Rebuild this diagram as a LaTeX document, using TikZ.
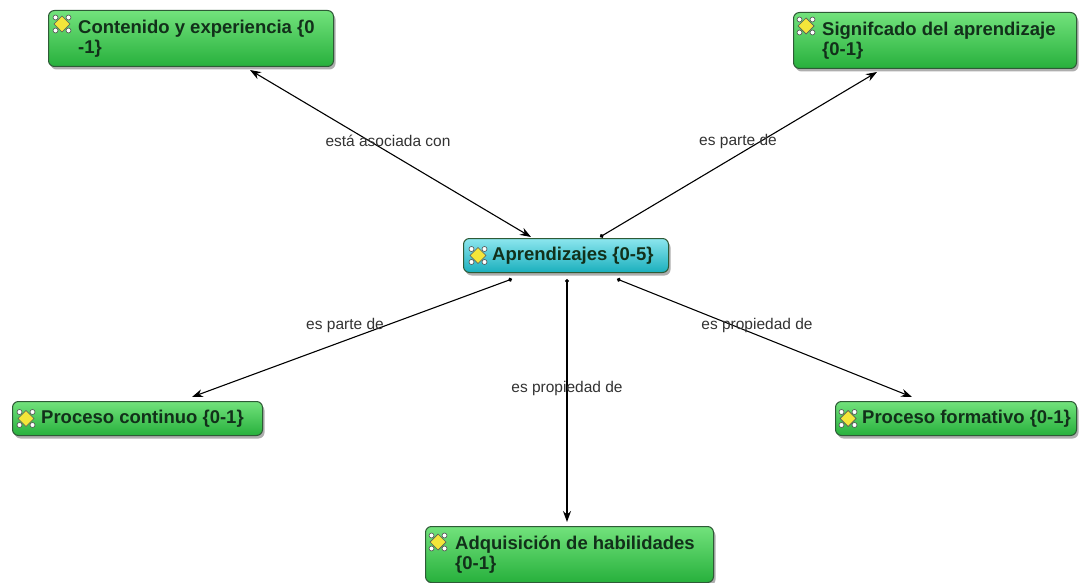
\documentclass[tikz,border=0pt]{standalone}
\usepackage{fontspec}
\setmainfont{Liberation Sans}
\usetikzlibrary{arrows.meta,shadows,calc}
\definecolor{gtop}{HTML}{72E27C}
\definecolor{gbot}{HTML}{27B03C}
\definecolor{ctop}{HTML}{8CE6EE}
\definecolor{cbot}{HTML}{1AAFBD}
\definecolor{bordc}{HTML}{2E5A36}
\definecolor{txtc}{HTML}{12301A}
\definecolor{lblc}{HTML}{333333}
\definecolor{gemy}{HTML}{F3E63A}
\tikzset{
  gbox/.style={draw=bordc, line width=1pt, rounded corners=6pt, top color=gtop, bottom color=gbot,
    drop shadow={shadow xshift=2pt, shadow yshift=-3pt, opacity=0.45, fill=black!70},
    anchor=north west, inner sep=0pt},
  cbox/.style={gbox, top color=ctop, bottom color=cbot},
  ntext/.style={anchor=west, inner sep=0pt, align=left, text=txtc,
    font=\fontsize{18.5}{20}\selectfont\bfseries},
  lbl/.style={inner sep=0pt, text=lblc, font=\fontsize{15.5}{17}\selectfont},
  conn/.style={draw=black, line width=1.1pt},
  tip/.tip={Stealth[length=11pt,width=8pt]},
  dot/.tip={Circle[length=4pt]},
  gem/.pic={
    \foreach \dx/\dy in {6.5/6.5,-6.5/6.5,6.5/-6.5,-6.5/-6.5}{
      \draw[gray!60!black, fill=white, line width=0.6pt] (\dx,\dy) circle (2.5pt);}
    \fill[gemy, draw=gray!70!black, line width=0.7pt] (0,-8) -- (8,0) -- (0,8) -- (-8,0) -- cycle;
  }
}
\begin{document}
\begin{tikzpicture}[x=1pt,y=-1pt]
\useasboundingbox (0,0) rectangle (1088,583);
\fill[white] (0,0) rectangle (1088,583);

% boxes
\node[gbox, minimum width=285pt, minimum height=56pt] (cont) at (48,10) {};
\node[gbox, minimum width=283pt, minimum height=56pt] (sign) at (793,12) {};
\node[cbox, minimum width=205pt, minimum height=34pt] (apr) at (463,238) {};
\node[gbox, minimum width=250pt, minimum height=34pt] (pcon) at (12,401) {};
\node[gbox, minimum width=241pt, minimum height=34pt] (pfor) at (835,401) {};
\node[gbox, minimum width=288pt, minimum height=56pt] (adq) at (425,526) {};

% icons
\pic at ([xshift=14pt,yshift=-14pt]cont.north west) {gem};
\pic at ([xshift=13pt,yshift=-14pt]sign.north west) {gem};
\pic at ([xshift=15pt]apr.west) {gem};
\pic at ([xshift=14pt]pcon.west) {gem};
\pic at ([xshift=13pt]pfor.west) {gem};
\pic at ([xshift=13pt,yshift=-16pt]adq.north west) {gem};

% texts
\node[ntext] (contT) at ([xshift=30pt]cont.west) {Contenido y experiencia \{0\\-1\}};
\node[ntext] (signT) at ([xshift=29pt]sign.west) {Signifcado del aprendizaje\\\{0-1\}};
\node[ntext] (aprT) at ([xshift=29pt]apr.west) {Aprendizajes \{0-5\}};
\node[ntext] (pconT) at ([xshift=29pt]pcon.west) {Proceso continuo \{0-1\}};
\node[ntext] (pforT) at ([xshift=27pt]pfor.west) {Proceso formativo \{0-1\}};
\node[ntext] (adqT) at ([xshift=30pt]adq.west) {Adquisición de habilidades\\\{0-1\}};

% connectors
\draw[conn, tip-tip] ([xshift=68pt,yshift=1pt]apr.north west) -- ([xshift=202pt,yshift=-3pt]cont.south west);
\draw[conn, dot-tip] ([xshift=137pt,yshift=1pt]apr.north west) -- ([xshift=84pt,yshift=-3pt]sign.south west);
\draw[conn, dot-tip] ([xshift=49pt,yshift=-6pt]apr.south west) -- ([xshift=180pt,yshift=4pt]pcon.north west);
\draw[conn, dot-tip] ([xshift=104pt,yshift=-6pt]apr.south west) -- ([xshift=142pt,yshift=4pt]adq.north west);
\draw[conn, dot-tip] ([xshift=154pt,yshift=-6pt]apr.south west) -- ([xshift=77pt,yshift=4pt]pfor.north west);

% labels
\node[lbl] (l1) at (388,141) {está asociada con};
\node[lbl] (l2) at (738,141) {es parte de};
\node[lbl] (l3) at (345,325) {es parte de};
\node[lbl] (l4) at (567,388) {es propiedad de};
\node[lbl] (l5) at (757,325) {es propiedad de};
\end{tikzpicture}
\end{document}
